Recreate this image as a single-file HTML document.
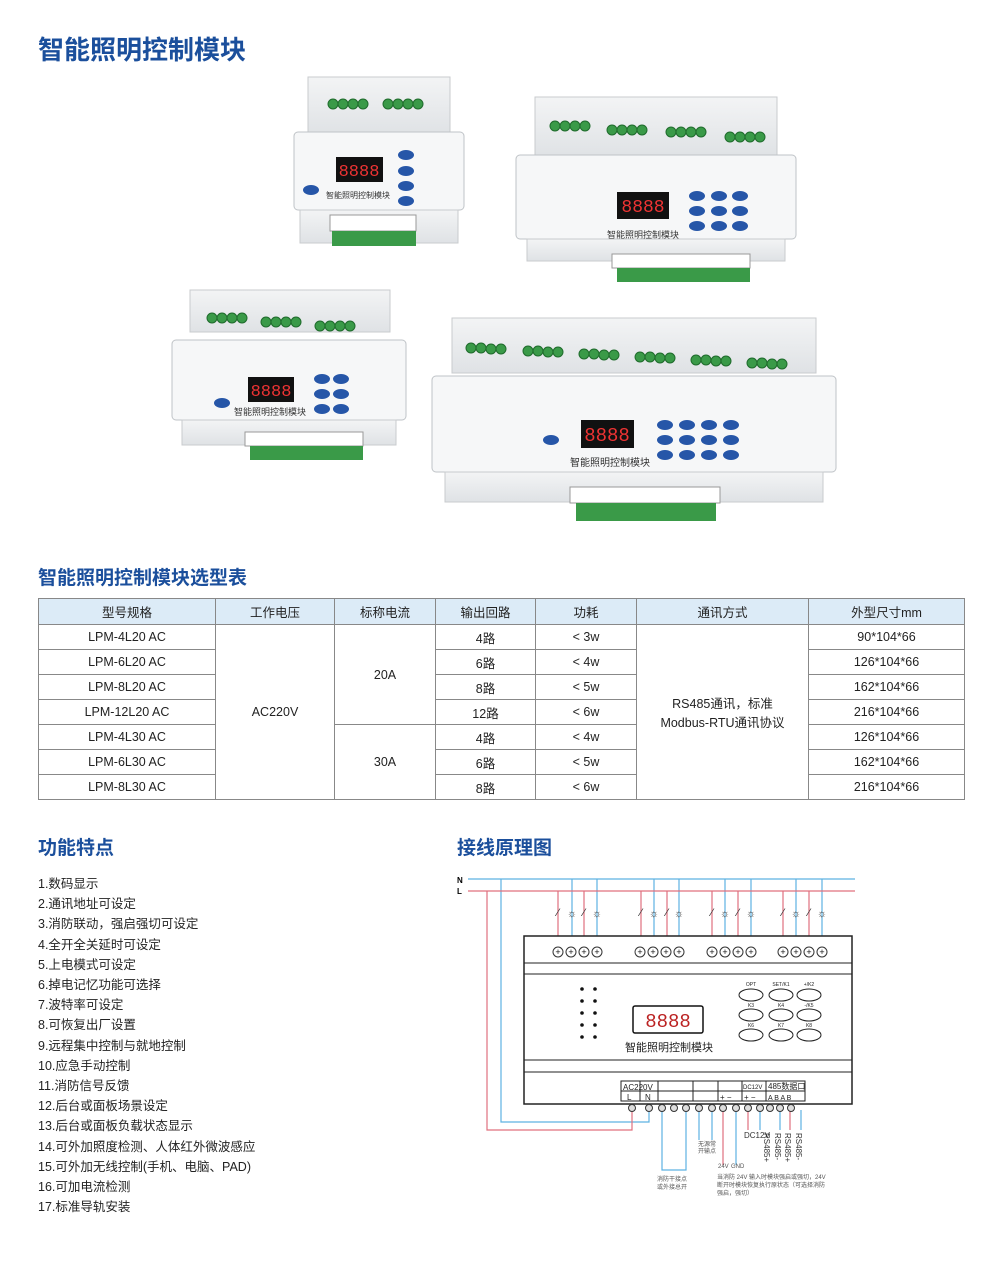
<!DOCTYPE html>
<html><head><meta charset="utf-8"><style>
body{margin:0;background:#fff;width:1000px;height:1277px;position:relative;overflow:hidden;font-family:"Liberation Sans","Noto Sans CJK SC",sans-serif}
.h{position:absolute;color:#1b4f9c;font-weight:bold}
table{position:absolute;left:38px;top:598px;border-collapse:collapse;font-size:12.5px;color:#222}
td,th{border:1px solid #888;text-align:center;padding:0;height:24px;font-weight:normal}
th{background:#dcebf7;height:25px}
.f{position:absolute;left:38px;top:874px;font-size:12.5px;line-height:20.2px;color:#222}
</style></head><body>
<div class="h" style="left:38px;top:30px;font-size:26px">智能照明控制模块</div>
<div class="h" style="left:38px;top:563px;font-size:19px">智能照明控制模块选型表</div>
<div class="h" style="left:38px;top:833px;font-size:19px">功能特点</div>
<div class="h" style="left:457px;top:833px;font-size:19px">接线原理图</div>

<svg style="position:absolute;left:0;top:0" width="1000" height="560">
<defs>
<linearGradient id="g1" x1="0" y1="0" x2="0" y2="1"><stop offset="0" stop-color="#f3f4f5"/><stop offset="1" stop-color="#dfe2e5"/></linearGradient>
</defs>
<g>
<rect x="308" y="77" width="142" height="58" fill="url(#g1)" stroke="#c8cbce"/>
<g fill="#3a9a48" stroke="#1f6b2c"><circle cx="333" cy="104" r="5"/><circle cx="343" cy="104" r="5"/><circle cx="353" cy="104" r="5"/><circle cx="363" cy="104" r="5"/><circle cx="388" cy="104" r="5"/><circle cx="398" cy="104" r="5"/><circle cx="408" cy="104" r="5"/><circle cx="418" cy="104" r="5"/></g>
<rect x="294" y="132" width="170" height="78" rx="4" fill="#f6f7f8" stroke="#bfc3c7"/>
<rect x="336" y="157" width="47" height="25" fill="#111"/><text x="359" y="176" font-size="17" fill="#e33" text-anchor="middle" font-family="Liberation Mono">8888</text>
<g fill="#2656a8"><ellipse cx="406" cy="155" rx="8" ry="5"/><ellipse cx="406" cy="171" rx="8" ry="5"/><ellipse cx="406" cy="186" rx="8" ry="5"/><ellipse cx="406" cy="201" rx="8" ry="5"/><ellipse cx="311" cy="190" rx="8" ry="5"/></g>
<text x="358" y="198" font-size="8" text-anchor="middle" fill="#333">智能照明控制模块</text>
<rect x="300" y="210" width="158" height="33" fill="url(#g1)" stroke="#c8cbce"/>
<rect x="330" y="215" width="86" height="16" fill="#fff" stroke="#999"/>
<rect x="332" y="231" width="84" height="15" fill="#3a9a48"/>
</g>
<g>
<rect x="535" y="97" width="242" height="60" fill="url(#g1)" stroke="#c8cbce"/>
<g fill="#3a9a48" stroke="#1f6b2c"><circle cx="555" cy="126" r="5"/><circle cx="565" cy="126" r="5"/><circle cx="575" cy="126" r="5"/><circle cx="585" cy="126" r="5"/><circle cx="612" cy="130" r="5"/><circle cx="622" cy="130" r="5"/><circle cx="632" cy="130" r="5"/><circle cx="642" cy="130" r="5"/><circle cx="671" cy="132" r="5"/><circle cx="681" cy="132" r="5"/><circle cx="691" cy="132" r="5"/><circle cx="701" cy="132" r="5"/><circle cx="730" cy="137" r="5"/><circle cx="740" cy="137" r="5"/><circle cx="750" cy="137" r="5"/><circle cx="760" cy="137" r="5"/></g>
<rect x="516" y="155" width="280" height="84" rx="4" fill="#f6f7f8" stroke="#bfc3c7"/>
<rect x="617" y="192" width="52" height="27" fill="#111"/><text x="643" y="212" font-size="18" fill="#e33" text-anchor="middle" font-family="Liberation Mono">8888</text>
<g fill="#2656a8"><ellipse cx="697" cy="196" rx="8" ry="5"/><ellipse cx="719" cy="196" rx="8" ry="5"/><ellipse cx="740" cy="196" rx="8" ry="5"/><ellipse cx="697" cy="211" rx="8" ry="5"/><ellipse cx="719" cy="211" rx="8" ry="5"/><ellipse cx="740" cy="211" rx="8" ry="5"/><ellipse cx="697" cy="226" rx="8" ry="5"/><ellipse cx="719" cy="226" rx="8" ry="5"/><ellipse cx="740" cy="226" rx="8" ry="5"/></g>
<text x="643" y="238" font-size="9" text-anchor="middle" fill="#333">智能照明控制模块</text>
<rect x="527" y="239" width="258" height="22" fill="url(#g1)" stroke="#c8cbce"/>
<rect x="612" y="254" width="138" height="14" fill="#fff" stroke="#999"/>
<rect x="617" y="268" width="133" height="14" fill="#3a9a48"/>
</g>
<g>
<rect x="190" y="290" width="200" height="42" fill="url(#g1)" stroke="#c8cbce"/>
<g fill="#3a9a48" stroke="#1f6b2c"><circle cx="212" cy="318" r="5"/><circle cx="222" cy="318" r="5"/><circle cx="232" cy="318" r="5"/><circle cx="242" cy="318" r="5"/><circle cx="266" cy="322" r="5"/><circle cx="276" cy="322" r="5"/><circle cx="286" cy="322" r="5"/><circle cx="296" cy="322" r="5"/><circle cx="320" cy="326" r="5"/><circle cx="330" cy="326" r="5"/><circle cx="340" cy="326" r="5"/><circle cx="350" cy="326" r="5"/></g>
<rect x="172" y="340" width="234" height="80" rx="4" fill="#f6f7f8" stroke="#bfc3c7"/>
<rect x="248" y="377" width="46" height="25" fill="#111"/><text x="271" y="396" font-size="17" fill="#e33" text-anchor="middle" font-family="Liberation Mono">8888</text>
<g fill="#2656a8"><ellipse cx="322" cy="379" rx="8" ry="5"/><ellipse cx="341" cy="379" rx="8" ry="5"/><ellipse cx="322" cy="394" rx="8" ry="5"/><ellipse cx="341" cy="394" rx="8" ry="5"/><ellipse cx="322" cy="409" rx="8" ry="5"/><ellipse cx="341" cy="409" rx="8" ry="5"/><ellipse cx="222" cy="403" rx="8" ry="5"/></g>
<text x="270" y="415" font-size="9" text-anchor="middle" fill="#333">智能照明控制模块</text>
<rect x="182" y="420" width="214" height="25" fill="url(#g1)" stroke="#c8cbce"/>
<rect x="245" y="432" width="118" height="14" fill="#fff" stroke="#999"/>
<rect x="250" y="446" width="113" height="14" fill="#3a9a48"/>
</g>
<g>
<rect x="452" y="318" width="364" height="55" fill="url(#g1)" stroke="#c8cbce"/>
<g fill="#3a9a48" stroke="#1f6b2c">
<circle cx="471" cy="348" r="5"/><circle cx="481" cy="348" r="5"/><circle cx="491" cy="349" r="5"/><circle cx="501" cy="349" r="5"/>
<circle cx="528" cy="351" r="5"/><circle cx="538" cy="351" r="5"/><circle cx="548" cy="352" r="5"/><circle cx="558" cy="352" r="5"/>
<circle cx="584" cy="354" r="5"/><circle cx="594" cy="354" r="5"/><circle cx="604" cy="355" r="5"/><circle cx="614" cy="355" r="5"/>
<circle cx="640" cy="357" r="5"/><circle cx="650" cy="357" r="5"/><circle cx="660" cy="358" r="5"/><circle cx="670" cy="358" r="5"/>
<circle cx="696" cy="360" r="5"/><circle cx="706" cy="360" r="5"/><circle cx="716" cy="361" r="5"/><circle cx="726" cy="361" r="5"/>
<circle cx="752" cy="363" r="5"/><circle cx="762" cy="363" r="5"/><circle cx="772" cy="364" r="5"/><circle cx="782" cy="364" r="5"/></g>
<rect x="432" y="376" width="404" height="96" rx="4" fill="#f6f7f8" stroke="#bfc3c7"/>
<rect x="581" y="420" width="53" height="28" fill="#111"/><text x="607" y="441" font-size="19" fill="#e33" text-anchor="middle" font-family="Liberation Mono">8888</text>
<g fill="#2656a8"><ellipse cx="665" cy="425" rx="8" ry="5"/><ellipse cx="687" cy="425" rx="8" ry="5"/><ellipse cx="709" cy="425" rx="8" ry="5"/><ellipse cx="731" cy="425" rx="8" ry="5"/><ellipse cx="665" cy="440" rx="8" ry="5"/><ellipse cx="687" cy="440" rx="8" ry="5"/><ellipse cx="709" cy="440" rx="8" ry="5"/><ellipse cx="731" cy="440" rx="8" ry="5"/><ellipse cx="665" cy="455" rx="8" ry="5"/><ellipse cx="687" cy="455" rx="8" ry="5"/><ellipse cx="709" cy="455" rx="8" ry="5"/><ellipse cx="731" cy="455" rx="8" ry="5"/><ellipse cx="551" cy="440" rx="8" ry="5"/></g>
<text x="610" y="466" font-size="10" text-anchor="middle" fill="#333">智能照明控制模块</text>
<rect x="445" y="472" width="378" height="30" fill="url(#g1)" stroke="#c8cbce"/>
<rect x="570" y="487" width="150" height="16" fill="#fff" stroke="#999"/>
<rect x="576" y="503" width="140" height="18" fill="#3a9a48"/>
</g>
</svg>

<table>
<tr><th style="width:176px">型号规格</th><th style="width:118px">工作电压</th><th style="width:100px">标称电流</th><th style="width:99px">输出回路</th><th style="width:100px">功耗</th><th style="width:171px">通讯方式</th><th style="width:155px">外型尺寸mm</th></tr>
<tr><td>LPM-4L20 AC</td><td rowspan="7">AC220V</td><td rowspan="4">20A</td><td>4路</td><td>&lt; 3w</td><td rowspan="7">RS485通讯，标准<br>Modbus-RTU通讯协议</td><td>90*104*66</td></tr>
<tr><td>LPM-6L20 AC</td><td>6路</td><td>&lt; 4w</td><td>126*104*66</td></tr>
<tr><td>LPM-8L20 AC</td><td>8路</td><td>&lt; 5w</td><td>162*104*66</td></tr>
<tr><td>LPM-12L20 AC</td><td>12路</td><td>&lt; 6w</td><td>216*104*66</td></tr>
<tr><td>LPM-4L30 AC</td><td rowspan="3">30A</td><td>4路</td><td>&lt; 4w</td><td>126*104*66</td></tr>
<tr><td>LPM-6L30 AC</td><td>6路</td><td>&lt; 5w</td><td>162*104*66</td></tr>
<tr><td>LPM-8L30 AC</td><td>8路</td><td>&lt; 6w</td><td>216*104*66</td></tr>
</table>

<div class="f">1.数码显示<br>2.通讯地址可设定<br>3.消防联动，强启强切可设定<br>4.全开全关延时可设定<br>5.上电模式可设定<br>6.掉电记忆功能可选择<br>7.波特率可设定<br>8.可恢复出厂设置<br>9.远程集中控制与就地控制<br>10.应急手动控制<br>11.消防信号反馈<br>12.后台或面板场景设定<br>13.后台或面板负载状态显示<br>14.可外加照度检测、人体红外微波感应<br>15.可外加无线控制(手机、电脑、PAD)<br>16.可加电流检测<br>17.标准导轨安装</div>

<svg style="position:absolute;left:450px;top:860px" width="420" height="340" viewBox="450 860 420 340" font-family="Liberation Sans,Noto Sans CJK SC,sans-serif">
<text x="457" y="883" font-size="8" font-weight="bold">N</text>
<text x="457" y="894" font-size="8" font-weight="bold">L</text>
<g stroke="#5db2e2" stroke-width="1.2" fill="none">
<line x1="468" y1="879" x2="855" y2="879"/>
<path d="M501 879 V1122 H649 V1108"/>
<path d="M572 879 V936 M597 879 V936 M654 879 V936 M679 879 V936 M725 879 V936 M751 879 V936 M796 879 V936 M822 879 V936"/>
<path d="M662 1110 V1170 H686 V1110"/>
<path d="M699 1110 V1140 M712 1110 V1140 M736 1110 V1165 M760 1110 V1130 M780 1110 V1130 M801 1110 V1130"/>
</g>
<g stroke="#e0707e" stroke-width="1.2" fill="none">
<line x1="468" y1="891" x2="855" y2="891"/>
<path d="M487 891 V1130 H632 V1108"/>
<path d="M558 891 V936 M584 891 V936 M641 891 V936 M667 891 V936 M712 891 V936 M738 891 V936 M783 891 V936 M809 891 V936"/>
<path d="M723 1110 V1165 M748 1110 V1130 M790 1110 V1130"/>
</g>
<g font-size="11" fill="#333" text-anchor="middle">
<text x="558" y="916">⁄</text><text x="572" y="917">☼</text><text x="584" y="916">⁄</text><text x="597" y="917">☼</text>
<text x="641" y="916">⁄</text><text x="654" y="917">☼</text><text x="667" y="916">⁄</text><text x="679" y="917">☼</text>
<text x="712" y="916">⁄</text><text x="725" y="917">☼</text><text x="738" y="916">⁄</text><text x="751" y="917">☼</text>
<text x="783" y="916">⁄</text><text x="796" y="917">☼</text><text x="809" y="916">⁄</text><text x="822" y="917">☼</text>
</g>
<rect x="524" y="936" width="328" height="168" fill="#fff" stroke="#222" stroke-width="1.5"/>
<g stroke="#222"><line x1="524" y1="963" x2="852" y2="963"/><line x1="524" y1="974" x2="852" y2="974"/><line x1="524" y1="1060" x2="852" y2="1060"/><line x1="524" y1="1072" x2="852" y2="1072"/></g>
<g fill="#fff" stroke="#333"><circle cx="558" cy="952" r="5"/><circle cx="571" cy="952" r="5"/><circle cx="584" cy="952" r="5"/><circle cx="597" cy="952" r="5"/><circle cx="640" cy="952" r="5"/><circle cx="653" cy="952" r="5"/><circle cx="666" cy="952" r="5"/><circle cx="679" cy="952" r="5"/><circle cx="712" cy="952" r="5"/><circle cx="725" cy="952" r="5"/><circle cx="738" cy="952" r="5"/><circle cx="751" cy="952" r="5"/><circle cx="783" cy="952" r="5"/><circle cx="796" cy="952" r="5"/><circle cx="809" cy="952" r="5"/><circle cx="822" cy="952" r="5"/></g>
<g font-size="9" text-anchor="middle" fill="#111"><text x="558" y="955">+</text><text x="571" y="955">+</text><text x="584" y="955">+</text><text x="597" y="955">+</text><text x="640" y="955">+</text><text x="653" y="955">+</text><text x="666" y="955">+</text><text x="679" y="955">+</text><text x="712" y="955">+</text><text x="725" y="955">+</text><text x="738" y="955">+</text><text x="751" y="955">+</text><text x="783" y="955">+</text><text x="796" y="955">+</text><text x="809" y="955">+</text><text x="822" y="955">+</text></g>
<g fill="#111"><circle cx="582" cy="989" r="1.8"/><circle cx="595" cy="989" r="1.8"/><circle cx="582" cy="1001" r="1.8"/><circle cx="595" cy="1001" r="1.8"/><circle cx="582" cy="1013" r="1.8"/><circle cx="595" cy="1013" r="1.8"/><circle cx="582" cy="1025" r="1.8"/><circle cx="595" cy="1025" r="1.8"/><circle cx="582" cy="1037" r="1.8"/><circle cx="595" cy="1037" r="1.8"/></g>
<rect x="633" y="1006" width="70" height="27" rx="2" fill="#fff" stroke="#111" stroke-width="1.5"/>
<text x="668" y="1027" font-size="19" fill="#b22" text-anchor="middle" font-family="Liberation Mono">8888</text>
<text x="669" y="1051" font-size="11" text-anchor="middle" fill="#222">智能照明控制模块</text>
<g fill="none" stroke="#222"><ellipse cx="751" cy="995" rx="12" ry="6"/><ellipse cx="781" cy="995" rx="12" ry="6"/><ellipse cx="809" cy="995" rx="12" ry="6"/><ellipse cx="751" cy="1015" rx="12" ry="6"/><ellipse cx="781" cy="1015" rx="12" ry="6"/><ellipse cx="809" cy="1015" rx="12" ry="6"/><ellipse cx="751" cy="1035" rx="12" ry="6"/><ellipse cx="781" cy="1035" rx="12" ry="6"/><ellipse cx="809" cy="1035" rx="12" ry="6"/></g>
<g font-size="5" text-anchor="middle" fill="#222"><text x="751" y="986">OPT</text><text x="781" y="986">SET/K1</text><text x="809" y="986">+/K2</text><text x="751" y="1007">K3</text><text x="781" y="1007">K4</text><text x="809" y="1007">-/K5</text><text x="751" y="1027">K6</text><text x="781" y="1027">K7</text><text x="809" y="1027">K8</text></g>
<rect x="621" y="1081" width="184" height="20" fill="#fff" stroke="#222"/>
<line x1="621" y1="1091" x2="805" y2="1091" stroke="#222"/>
<g stroke="#222"><line x1="640" y1="1081" x2="640" y2="1101"/><line x1="658" y1="1081" x2="658" y2="1101"/><line x1="693" y1="1081" x2="693" y2="1101"/><line x1="718" y1="1081" x2="718" y2="1101"/><line x1="742" y1="1081" x2="742" y2="1101"/><line x1="766" y1="1081" x2="766" y2="1101"/></g>
<g font-size="8" fill="#222"><text x="623" y="1090">AC220V</text><text x="627" y="1100">L</text><text x="645" y="1100">N</text><text x="743" y="1089" font-size="6">DC12V</text><text x="768" y="1089">485数据口</text><text x="768" y="1100" font-size="7">A B A B</text><text x="720" y="1100">+ −</text><text x="744" y="1100">+ −</text></g>
<g fill="#ddd" stroke="#333"><circle cx="632" cy="1108" r="3.5"/><circle cx="649" cy="1108" r="3.5"/><circle cx="662" cy="1108" r="3.5"/><circle cx="674" cy="1108" r="3.5"/><circle cx="686" cy="1108" r="3.5"/><circle cx="699" cy="1108" r="3.5"/><circle cx="712" cy="1108" r="3.5"/><circle cx="723" cy="1108" r="3.5"/><circle cx="736" cy="1108" r="3.5"/><circle cx="748" cy="1108" r="3.5"/><circle cx="760" cy="1108" r="3.5"/><circle cx="770" cy="1108" r="3.5"/><circle cx="780" cy="1108" r="3.5"/><circle cx="791" cy="1108" r="3.5"/></g>
<g font-size="8" fill="#333"><text x="744" y="1138">DC12V</text>
<text transform="translate(764,1133) rotate(90)">RS485+</text><text transform="translate(775,1133) rotate(90)">RS485-</text><text transform="translate(785,1133) rotate(90)">RS485+</text><text transform="translate(796,1133) rotate(90)">RS485-</text></g>
<g font-size="6" fill="#555"><text x="698" y="1146">无源常</text><text x="698" y="1153">开输点</text><text x="718" y="1168">24V</text><text x="731" y="1168">GND</text><text x="657" y="1181">消防干接点</text><text x="657" y="1189">或外接总开</text>
<text x="717" y="1179">当消防 24V 输入时模块强启或强切，24V</text><text x="717" y="1187">断开时模块恢复执行原状态（可选择消防</text><text x="717" y="1195">强启，强切）</text></g>
</svg>
</body></html>
